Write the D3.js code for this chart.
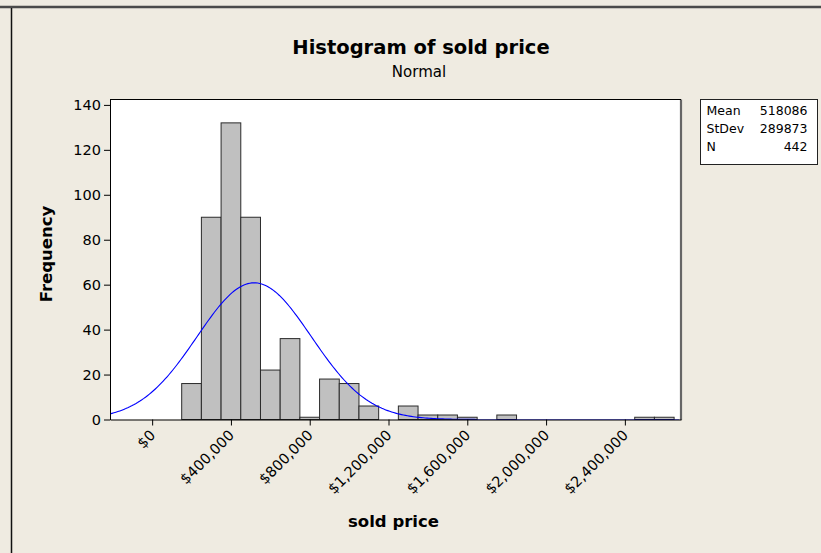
<!DOCTYPE html>
<html>
<head>
<meta charset="utf-8">
<script src="https://cdn.jsdelivr.net/npm/d3@7"></script>
<style>
  body { margin: 0; background: #EFEBE1; }
  svg { display: block; }
  text { font-family: "DejaVu Sans", Verdana, sans-serif; fill: #000; }
</style>
</head>
<body>
<div id="graph"></div>
<script>
// histogram bins (midpoints, $) and their counts
const binMids = [200000, 300000, 400000, 500000, 600000, 700000, 800000, 900000, 1000000,
    1100000, 1200000, 1300000, 1400000, 1500000, 1600000, 1700000, 1800000, 1900000,
    2000000, 2100000, 2200000, 2300000, 2400000, 2500000, 2600000];
const counts = [16, 90, 132, 90, 22, 36, 1, 18, 16, 6, 0, 6, 2, 2, 1, 0, 2, 0, 0, 0, 0, 0, 0, 1, 1];
const binWidth = 100000;

const xTicks = [0, 400000, 800000, 1200000, 1600000, 2000000, 2400000];
const yTicks = [0, 20, 40, 60, 80, 100, 120, 140];

const statLabels = ['Mean', 'StDev', 'N'];
const statValues = [518086, 289873, 442];

const W = 821, H = 553;
const margin = { top: 99.5, right: 140, bottom: 133.5, left: 110 };
const width = 681 - margin.left;
const height = 419.5 - margin.top;

var svg = d3.select('div#graph')
    .append('svg')
        .attr('width', W)
        .attr('height', H);

// window frame lines
svg.append('line')
    .attr('x1', 0).attr('x2', W).attr('y1', 7).attr('y2', 7)
    .attr('stroke', '#4a4a4a').attr('stroke-width', 2.5)
svg.append('line')
    .attr('x1', 11.5).attr('x2', 11.5).attr('y1', 8).attr('y2', H)
    .attr('stroke', '#111').attr('stroke-width', 1.5)

svg.append('text')
    .attr('x', 421).attr('y', 54)
    .attr('text-anchor', 'middle')
    .style('font-size', '19.5px').style('font-weight', 'bold')
    .text('Histogram of sold price')

svg.append('text')
    .attr('x', 419).attr('y', 77)
    .attr('text-anchor', 'middle')
    .style('font-size', '15px')
    .text('Normal')

var g = svg.append('g')
    .attr('transform', `translate(${margin.left},${margin.top})`);

var xScale = d3.scaleLinear()
    .domain([-214000, 2685000])
    .range([0, width])

var yScale = d3.scaleLinear()
    .domain([0, 142.4])
    .range([height, 0])

g.append('rect')
    .attr('width', width).attr('height', height)
    .attr('fill', '#fff')

const clip = g.append('defs').append('clipPath')
        .attr('id', 'clip')
    .append('rect')
        .attr('width', width)
        .attr('height', height);

// bars
g.append('g')
    .selectAll('rect')
    .data(binMids.map((m, i) => ({ mid: m, n: counts[i] })).filter(d => d.n > 0))
    .enter()
    .append('rect')
        .attr('x', d => xScale(d.mid - binWidth / 2))
        .attr('width', d => xScale(d.mid + binWidth / 2) - xScale(d.mid - binWidth / 2))
        .attr('y', d => yScale(d.n))
        .attr('height', d => yScale(0) - yScale(d.n))
        .attr('fill', '#C0C0C0')
        .attr('stroke', '#2b2b2b')
        .attr('stroke-width', 1)

// fitted normal curve
const mean = statValues[0], sd = statValues[1], N = statValues[2];
const curveX = d3.range(xScale.domain()[0], xScale.domain()[1] + 1, 10000);
var line = d3.line()
    .x(d => xScale(d))
    .y(d => yScale(N * binWidth / (sd * Math.sqrt(2 * Math.PI)) * Math.exp(-0.5 * ((d - mean) / sd) ** 2)))

g.append('path')
    .datum(curveX)
    .attr('clip-path', 'url(#clip)')
    .attr('d', line)
    .attr('fill', 'none')
    .attr('stroke', '#0000ff')
    .attr('stroke-width', 1.1)

// frame
g.append('line').attr('x1', width).attr('x2', width).attr('y1', 0).attr('y2', height + 0.5)
    .attr('stroke', '#666').attr('stroke-width', 2.2)
g.append('line').attr('x1', 0).attr('x2', width).attr('y1', 0).attr('y2', 0)
    .attr('stroke', '#000').attr('stroke-width', 1)

var yAxis = g.append('g')
    .call(d3.axisLeft(yScale).tickValues(yTicks).tickSize(6).tickSizeOuter(0).tickPadding(3))
yAxis.select('.domain').attr('stroke', '#000')
yAxis.selectAll('text').style('font-size', '14.5px')

var xAxis = g.append('g')
    .attr('transform', `translate(0, ${height})`)
    .call(d3.axisBottom(xScale).tickValues(xTicks).tickSize(6).tickSizeOuter(0)
        .tickFormat(d => '$' + d3.format(',')(d)))
xAxis.selectAll('text')
    .style('font-size', '14.5px')
    .attr('text-anchor', 'end')
    .attr('dy', '0.35em')
    .attr('y', 0)
    .attr('transform', 'translate(0,13) rotate(-45)')

svg.append('text')
    .attr('transform', 'translate(52,254) rotate(-90)')
    .attr('text-anchor', 'middle')
    .style('font-size', '16.5px').style('font-weight', 'bold')
    .text('Frequency')

svg.append('text')
    .attr('x', 393.5).attr('y', 527)
    .attr('text-anchor', 'middle')
    .style('font-size', '16.5px').style('font-weight', 'bold')
    .text('sold price')

// stats box
var legend = svg.append('g').attr('transform', 'translate(700.5,99.5)')
legend.append('rect')
    .attr('width', 117).attr('height', 65)
    .attr('fill', '#fff').attr('stroke', '#222')
legend.selectAll('text.lab')
    .data(statLabels).enter()
    .append('text')
        .attr('class', 'lab')
        .attr('x', 6).attr('y', (d, i) => 15 + i * 18)
        .style('font-size', '12.5px')
        .text(d => d)
legend.selectAll('text.val')
    .data(statValues).enter()
    .append('text')
        .attr('class', 'val')
        .attr('x', 107).attr('y', (d, i) => 15 + i * 18)
        .attr('text-anchor', 'end')
        .style('font-size', '12.5px')
        .text(d => d)
</script>
</body>
</html>
